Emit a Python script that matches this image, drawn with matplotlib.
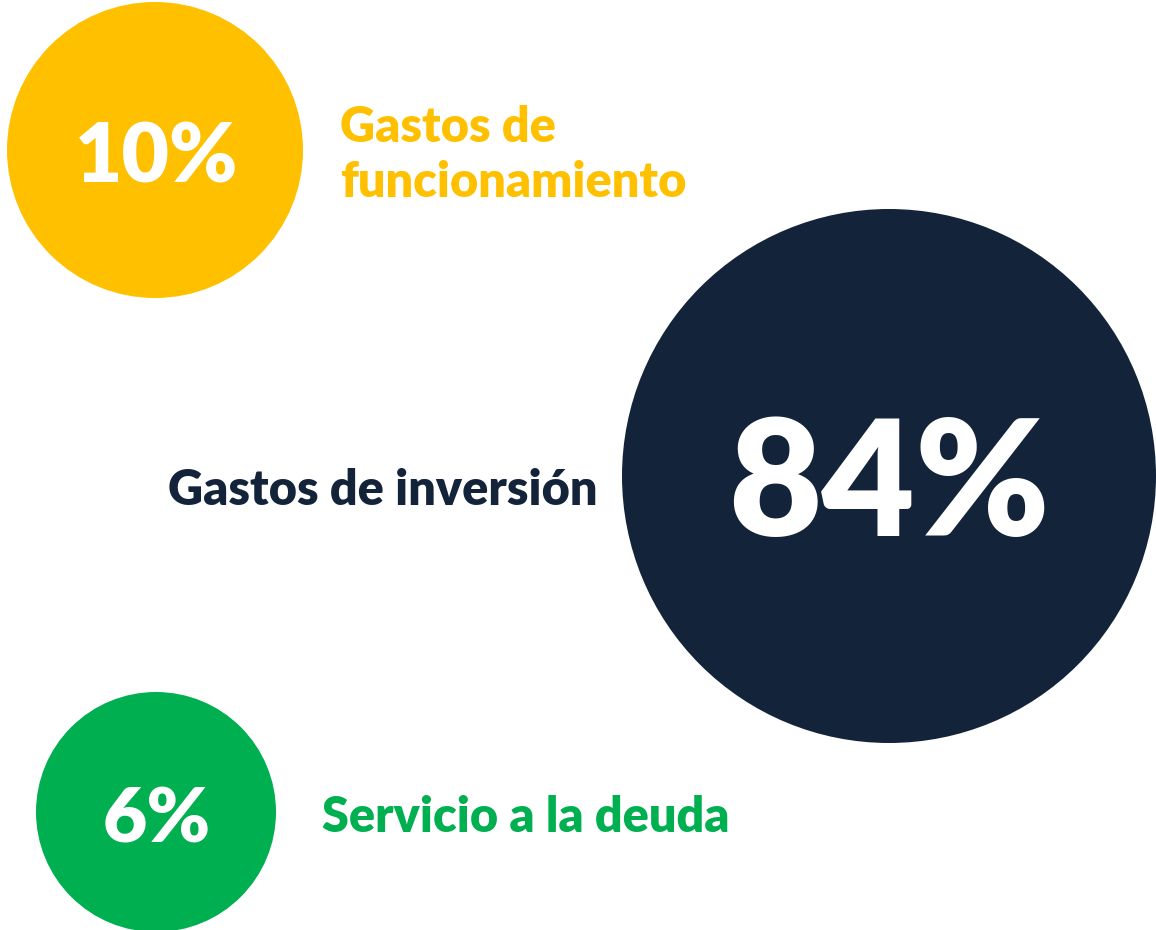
import matplotlib
matplotlib.use("Agg")
import matplotlib.pyplot as plt
from matplotlib.patches import Circle

# data
labels = ["Gastos de\nfuncionamiento", "Gastos de inversión", "Servicio a la deuda"]
values = [10, 84, 6]
colors = ["#FFC000", "#13243A", "#00AF50"]

# layout (pixel coordinates of the 1156x930 canvas)
centers = [(155, 150), (889, 476), (156, 812)]
radii = [148, 267, 120]
value_sizes = [59, 116, 55]
value_shift = [(2, 9), (0, 13), (1, 8)]
label_pos = [(340, 155, "left"), (598, 490, "right"), (322, 817, "left")]
label_size = 35

fig = plt.figure(figsize=(11.56, 9.30), dpi=100)
ax = fig.add_axes([0, 0, 1, 1])
ax.set_xlim(0, 1156)
ax.set_ylim(930, 0)
ax.set_aspect("equal")
ax.set_axis_off()

for (cx, cy), r, v, c, fs, (dx, dy) in zip(centers, radii, values, colors,
                                           value_sizes, value_shift):
    ax.add_patch(Circle((cx, cy), r, color=c, lw=0))
    ax.text(cx + dx, cy + dy, f"{v}%", color="white", fontsize=fs,
            fontweight="heavy", family="Lato", ha="center", va="center")

for lab, (x, y, ha), c in zip(labels, label_pos, colors):
    ax.text(x, y, lab, color=c, fontsize=label_size, fontweight="heavy",
            family="Lato", ha=ha, va="center", linespacing=1.27)

fig.savefig("out.png", dpi=100, facecolor="white")
